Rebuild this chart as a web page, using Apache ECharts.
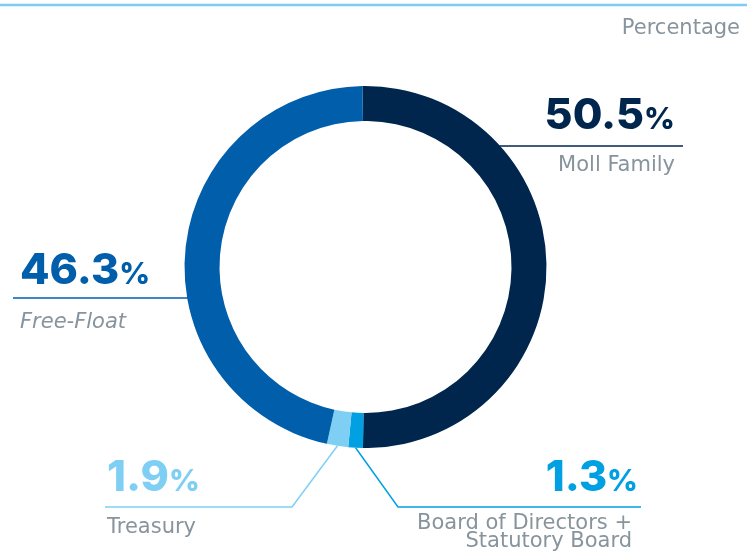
<!DOCTYPE html>
<html>
<head>
<meta charset="utf-8">
<script src="https://cdn.jsdelivr.net/npm/echarts@6/dist/echarts.min.js"></script>
<style>
  html, body { margin: 0; padding: 0; background: #fff; }
  #chart { width: 747px; height: 552px; }
</style>
</head>
<body>
<div id="chart"></div>
<script>
// data
var shareNames = ['Moll Family', 'Board of Directors +\nStatutory Board', 'Treasury', 'Free-Float'];
var shareValues = [50.5, 1.3, 1.9, 46.3];
var unitLabel = 'Percentage';

// styles
var sliceColors = ['#00264e', '#00a0e2', '#7fcff5', '#005eab'];
var grayText = '#87949d';
var numFont = 'Inter';
var nameFont = 'DejaVu Sans';

// ring geometry
var cx = 365.5, cy = 267, rOut = 181, rIn = 146;

// where each label sits (lineY = y of the label line, vHalf = half of value row, gap = space under line)
var spots = [
  { side: 'right', x: 675, lineY: 146, endX: 683, vHalf: 30, gap: 10.5, padR: 0 },
  { side: 'low', x: 638, lineY: 507, elbowX: 398, endX: 641, vHalf: 29, gap: 7, align: 'right', padR: 6 },
  { side: 'low', x: 107, lineY: 507, elbowX: 292, endX: 105, vHalf: 29, gap: 11.5, align: 'left', padR: 0 },
  { side: 'left', x: 20, lineY: 298, endX: 13, vHalf: 27, gap: 15.5, italic: true, padR: 0 }
];

var rich = {};
spots.forEach(function (s, i) {
  rich['v' + i] = { fontFamily: numFont, fontSize: 43, fontWeight: 800, color: sliceColors[i], lineHeight: s.vHalf * 2 };
  rich['p' + i] = { fontFamily: numFont, fontSize: 30, fontWeight: 800, color: sliceColors[i], padding: [8, 0, 0, 0] };
  rich['g' + i] = { fontSize: 4, lineHeight: s.gap };
  rich['n' + i] = { fontFamily: nameFont, fontSize: 21, color: grayText, lineHeight: 18.5,
    fontStyle: s.italic ? 'italic' : 'normal', padding: [0, s.padR, 0, 0] };
});

var chart = echarts.init(document.getElementById('chart'));
chart.setOption({
  animation: false,
  title: {
    text: unitLabel,
    right: 2,
    top: 13,
    textStyle: { fontFamily: nameFont, fontSize: 21, fontWeight: 'normal', color: grayText }
  },
  graphic: [{
    type: 'line',
    shape: { x1: 0, y1: 5, x2: 747, y2: 5 },
    style: { stroke: '#7ccdf2', lineWidth: 2.5 }
  }],
  series: [{
    type: 'pie',
    center: [cx, cy],
    radius: [rIn, rOut],
    startAngle: 91,
    clockwise: true,
    silent: true,
    avoidLabelOverlap: false,
    emphasis: { disabled: true },
    itemStyle: { borderWidth: 0 },
    label: {
      show: true,
      position: 'outside',
      rich: rich,
      formatter: function (p) {
        var i = p.dataIndex;
        var nameRows = p.name.split('\n').map(function (t) { return '{n' + i + '|' + t + '}'; }).join('\n');
        return '{v' + i + '|' + p.value.toFixed(1) + '}{p' + i + '|%}\n{g' + i + '| }\n' + nameRows;
      }
    },
    labelLine: { show: true, lineStyle: { width: 1.5 } },
    labelLayout: function (params) {
      var s = spots[params.dataIndex];
      var pts = params.labelLinePoints;
      var start, elbow;
      if (s.side === 'low') {
        start = pts[0];
        elbow = [s.elbowX, s.lineY];
      } else {
        var dy = s.lineY - cy;
        var dx = Math.sqrt(rOut * rOut - dy * dy) - 1;
        start = [s.side === 'right' ? cx + dx : cx - dx, s.lineY];
        elbow = start.slice();
      }
      var align = s.align || (s.side === 'right' ? 'right' : 'left');
      return {
        x: s.x,
        y: s.lineY - s.vHalf * 2,
        align: align,
        verticalAlign: 'top',
        labelLinePoints: [start, elbow, [s.endX, s.lineY]]
      };
    },
    data: shareNames.map(function (n, i) {
      return { name: n, value: shareValues[i], itemStyle: { color: sliceColors[i] } };
    })
  }]
});
</script>
</body>
</html>
